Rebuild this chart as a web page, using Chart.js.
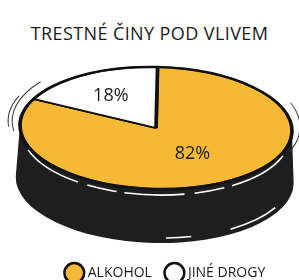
<!DOCTYPE html>
<html>
<head>
<meta charset="utf-8">
<script src="https://cdn.jsdelivr.net/npm/chart.js@4/dist/chart.umd.min.js"></script>
<style>
  html, body { margin: 0; padding: 0; background: #fff; }
  #wrap { position: relative; width: 299px; height: 280px; }
  #title {
    position: absolute; left: 0; top: 21px; width: 299px; text-align: center;
    font-family: 'Open Sans', sans-serif; font-size: 18px; font-weight: 500;
    color: #1a1a1a; letter-spacing: 0.4px;
  }
  canvas { position: absolute; left: 0; top: 0; }
</style>
</head>
<body>
<div id="wrap">
  <div id="title">TRESTNÉ ČINY POD VLIVEM</div>
  <canvas id="chart" width="299" height="280"></canvas>
</div>
<script>
// ── Datos ────────────────────────────────────────────
const categorias = ['ALKOHOL', 'JINÉ DROGY'];
const valores = [82, 18];
const colores = ['#F6B935', '#FFFFFF'];

// ── Geometría del "disco" en perspectiva ─────────────
const CX = 156, CY = 128, RX = 136, RY = 61, DEPTH = 52, ROT = 0.025;

function disco(ctx) {
  ctx.translate(CX, CY);
  ctx.rotate(ROT);
}

const pie3d = {
  id: 'pie3d',
  beforeDatasetsDraw(chart) {
    const ctx = chart.ctx;
    ctx.save();
    disco(ctx);
    // lado negro
    ctx.beginPath();
    ctx.ellipse(0, DEPTH, RX + 3, RY + 2, 0, 0, Math.PI);
    ctx.lineTo(-RX, 0);
    ctx.ellipse(0, 0, RX, RY, 0, Math.PI, 0, true);
    ctx.closePath();
    ctx.fillStyle = '#1e1e1e';
    ctx.fill();
    // brillos blancos
    ctx.strokeStyle = '#fff';
    ctx.lineWidth = 1.6;
    ctx.setLineDash([60, 8, 30, 10]);
    ctx.beginPath();
    ctx.ellipse(0, 6, RX - 2, RY, 0, 0.1 * Math.PI, 0.93 * Math.PI);
    ctx.stroke();
    ctx.setLineDash([50, 40, 25, 60]);
    ctx.beginPath();
    ctx.ellipse(0, DEPTH - 3, RX, RY, 0, 0.15 * Math.PI, 0.6 * Math.PI);
    ctx.stroke();
    ctx.setLineDash([]);
    // líneas de movimiento
    ctx.strokeStyle = '#333';
    ctx.lineWidth = 1;
    [[-RX - 8, 0.95, 1.2], [-RX - 12, 0.97, 1.12], [RX + 8, -0.12, 0.12], [RX + 12, -0.08, 0.08]].forEach(([rx, a, b]) => {
      ctx.beginPath();
      ctx.ellipse(0, -4, Math.abs(rx), RY + 6, 0, a * Math.PI, b * Math.PI);
      ctx.stroke();
    });
    // aplastar la torta
    const arc = chart.getDatasetMeta(0).data[0];
    const r = arc.outerRadius;
    ctx.scale(RX / r, RY / r);
    ctx.translate(-arc.x, -arc.y);
  },
  afterDatasetsDraw(chart) {
    const ctx = chart.ctx;
    ctx.restore();
    ctx.save();
    disco(ctx);
    ctx.beginPath();
    ctx.ellipse(0, 0, RX, RY, 0, 0, Math.PI * 2);
    ctx.strokeStyle = '#111';
    ctx.lineWidth = 2.5;
    ctx.stroke();
    ctx.restore();
    // etiquetas
    ctx.save();
    ctx.font = '500 18px "Open Sans", sans-serif';
    ctx.fillStyle = '#1a1a1a';
    ctx.textAlign = 'center';
    ctx.textBaseline = 'middle';
    chart.getDatasetMeta(0).data.forEach((a, i) => {
      const mid = (a.startAngle + a.endAngle) / 2;
      const f = i === 0 ? 0.5 : 0.62;
      ctx.fillText(valores[i] + '%', CX + Math.cos(mid) * RX * f, CY + Math.sin(mid) * RY * f);
    });
    ctx.restore();
  }
};

new Chart(document.getElementById('chart'), {
  type: 'pie',
  data: {
    labels: categorias,
    datasets: [{
      data: valores,
      backgroundColor: colores,
      borderColor: '#111',
      borderWidth: 2.5
    }]
  },
  options: {
    responsive: false, animation: false, devicePixelRatio: 1,
    layout: { padding: { left: 34, right: 0, top: 60, bottom: -10 } },
    plugins: {
      tooltip: { enabled: false },
      legend: {
        position: 'bottom',
        labels: {
          usePointStyle: true, pointStyle: 'circle', boxWidth: 13, padding: 16,
          color: '#1a1a1a', font: { family: 'Open Sans', size: 14, weight: '500' }
        }
      }
    }
  },
  plugins: [pie3d]
});
</script>
</body>
</html>
